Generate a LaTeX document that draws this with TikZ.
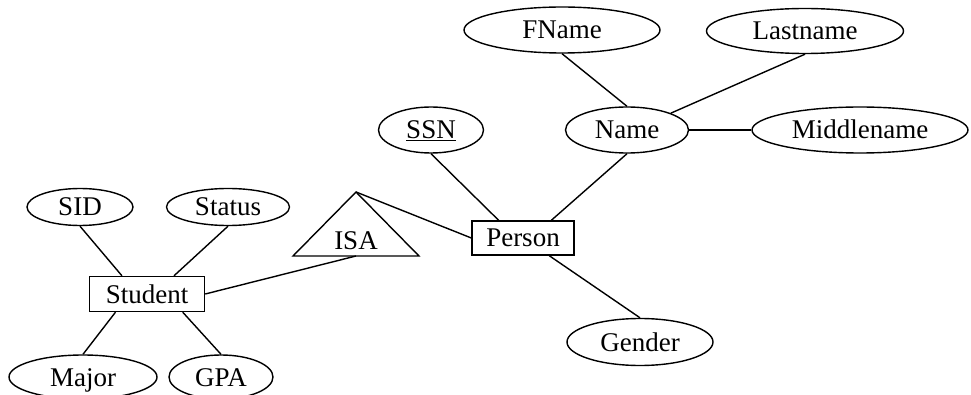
\documentclass[tikz,border=0pt]{standalone}
\usepackage{fontspec}
\setmainfont{Liberation Serif}
\usetikzlibrary{shapes.geometric}
\begin{document}
\begin{tikzpicture}[x=1pt,y=-1pt,
  every node/.style={font=\fontsize{27}{32}\selectfont, inner sep=0pt, text height=18pt, text depth=0pt},
  attr/.style={draw, ellipse, line width=1.4pt},
  ent/.style={draw, rectangle, line width=1.4pt},
  conn/.style={line width=1.4pt}]
\useasboundingbox (0,0) rectangle (971,395);
% attributes
\node[attr, minimum width=196pt, minimum height=46pt] (fname) at (562,30) {FName};
\node[attr, minimum width=197pt, minimum height=45pt] (lastname) at (805,31) {Lastname};
\node[attr, minimum width=105pt, minimum height=46pt] (ssn) at (431,130) {\underline{SSN}};
\node[attr, minimum width=123pt, minimum height=46pt] (name) at (627,130) {Name};
\node[attr, minimum width=216pt, minimum height=46pt] (middlename) at (860,130) {Middlename};
\node[attr, minimum width=146pt, minimum height=47pt] (gender) at (640,342) {Gender};
\node[attr, minimum width=106pt, minimum height=37pt] (sid) at (80,207) {SID};
\node[attr, minimum width=123pt, minimum height=37pt] (status) at (228,207) {Status};
\node[attr, minimum width=148pt, minimum height=44pt] (major) at (83,377) {Major};
\node[attr, minimum width=104pt, minimum height=44pt] (gpa) at (221,377) {GPA};
% entities
\node[ent, minimum width=102pt, minimum height=34pt] (person) at (523,238) {Person};
\node[ent, minimum width=115pt, minimum height=35pt] (student) at (147,294) {Student};
% ISA triangle
\coordinate (isat) at (356,192);
\coordinate (isal) at (293,256);
\coordinate (isar) at (419,256);
\coordinate (isab) at (356,256);
\draw[conn, line join=miter] (isal) -- (isat) -- (isar) -- cycle;
\node (isa) at (356,241) {ISA};
% connectors
\draw[conn] (fname.south) -- (name.north);
\draw[conn] (lastname.south) -- (name.21);
\draw[conn] (name.east) -- (middlename.west);
\draw[conn] (name.south) -- (person.32);
\draw[conn] (ssn.south) -- (person.144);
\draw[conn] (isat) -- (person.west);
\draw[conn] (student.east) -- (isab);
\draw[conn] (person.-34) -- (gender.north);
\draw[conn] (sid.south) -- (student.144);
\draw[conn] (status.south) -- (student.34);
\draw[conn] (student.-150) -- (major.north);
\draw[conn] (student.-27) -- (gpa.north);
\end{tikzpicture}
\end{document}
